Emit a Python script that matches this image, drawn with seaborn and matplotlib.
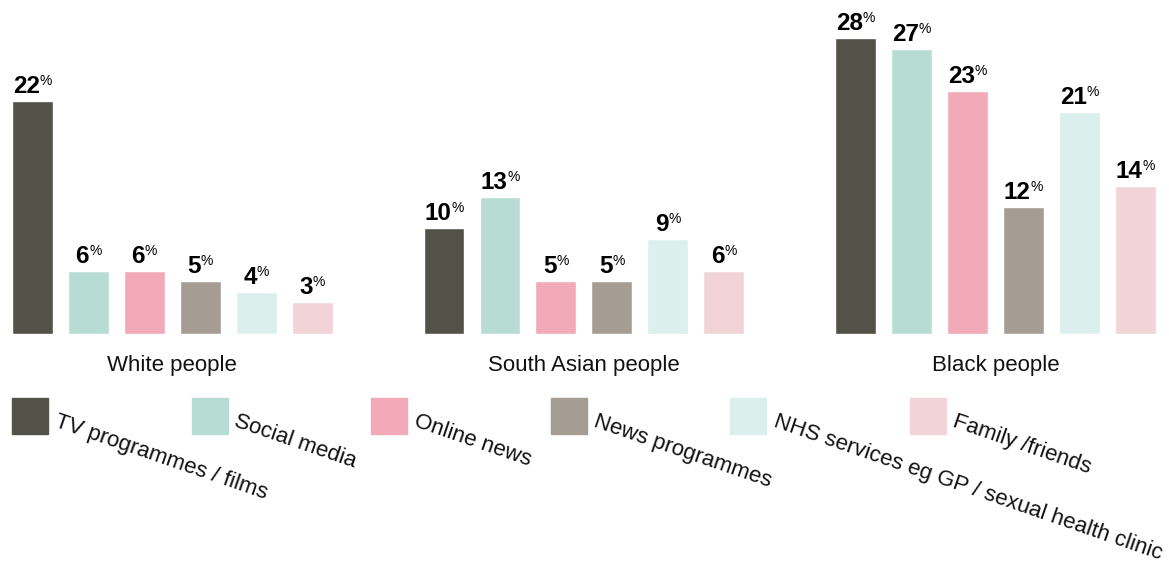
import matplotlib
matplotlib.use("Agg")
import matplotlib.pyplot as plt
from matplotlib.patches import Rectangle
from matplotlib.transforms import ScaledTranslation
import pandas as pd
import seaborn as sns

# Share of people citing each source, by ethnic group (%)
groups = ["White people", "South Asian people", "Black people"]
sources = ["TV programmes / films", "Social media", "Online news",
           "News programmes", "NHS services eg GP / sexual health clinic",
           "Family /friends"]
tv = [22, 10, 28]
social = [6, 13, 27]
online = [6, 5, 23]
news = [5, 5, 12]
nhs = [4, 9, 21]
family = [3, 6, 14]

colors = ["#525249", "#b7dcd3", "#f2aab8", "#a59d94", "#dbefec", "#f2d3d7"]

rows = []
for src, vals in zip(sources, [tv, social, online, news, nhs, family]):
    for g, v in zip(groups, vals):
        rows.append({"group": g, "source": src, "value": v})
df = pd.DataFrame(rows)

sns.set_style("white")
plt.rcParams["font.family"] = ["Liberation Sans", "DejaVu Sans"]

W, H, DPI = 1169, 570, 100
fig = plt.figure(figsize=(W / DPI, H / DPI), dpi=DPI)
base_px = 334
ax = fig.add_axes([0, (H - base_px) / H, 1, base_px / H])

sns.barplot(data=df, x="group", y="value", hue="source", order=groups,
            hue_order=sources, palette=colors, saturation=1,
            width=0.816, gap=0.27, legend=False, ax=ax)

ax.set_xlim(-0.419, 2.422)
ax.set_ylim(0, 31.6)
ax.set_xlabel("")
ax.set_ylabel("")
ax.set_yticks([])
sns.despine(ax=ax, left=True, bottom=True)
ax.tick_params(axis="x", length=0, pad=15, labelsize=16, labelcolor="#111111")

# Value labels: bold number with a small raised percent sign
renderer = fig.canvas.get_renderer()
for container in ax.containers:
    for bar, v in zip(container, container.datavalues):
        cx = bar.get_x() + bar.get_width() / 2
        top = bar.get_height()
        t1 = ax.text(cx, top, f"{v:g}", ha="right", va="baseline",
                     fontsize=17.5, fontweight="bold", color="#000000")
        t2 = ax.text(cx, top, "%", ha="left", va="top",
                     fontsize=10, color="#000000")
        w1 = t1.get_window_extent(renderer).width
        w2 = t2.get_window_extent(renderer).width
        shift = (w1 - w2) / 2
        t1.set_transform(ax.transData + ScaledTranslation(
            shift / DPI, 8 / DPI, fig.dpi_scale_trans))
        t2.set_transform(ax.transData + ScaledTranslation(
            shift / DPI, 27 / DPI, fig.dpi_scale_trans))

# Legend row: colour squares with slanted labels
step = 179.6
for i, (src, col) in enumerate(zip(sources, colors)):
    x0 = 12 + i * step
    y0 = 398
    fig.patches.append(Rectangle((x0 / W, 1 - (y0 + 36) / H), 36 / W, 36 / H,
                                 transform=fig.transFigure, color=col))
    fig.text((x0 + 47) / W, 1 - (y0 + 13) / H, src, rotation=-19,
             rotation_mode="anchor", ha="left", va="top", fontsize=16,
             color="#111111")

fig.savefig("out.png", dpi=DPI)
